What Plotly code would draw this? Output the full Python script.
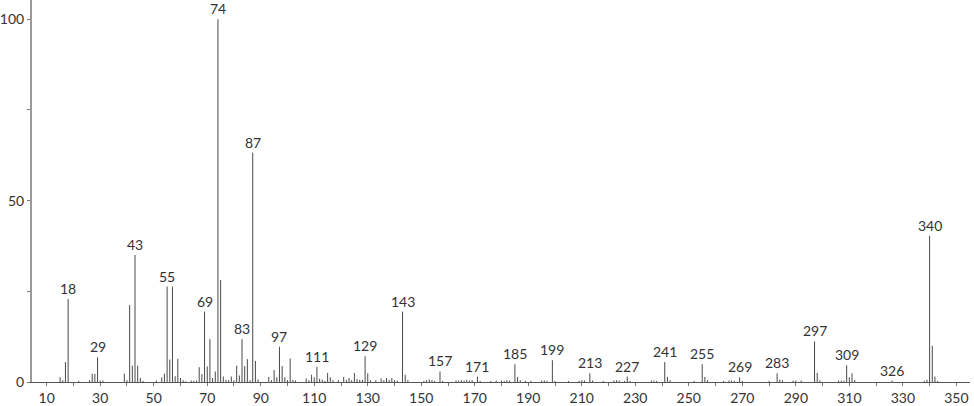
import plotly.graph_objects as go

# m/z values and relative intensities
mz = [15, 16, 17, 18, 22, 26, 27, 28, 29, 30, 31, 39, 40, 41, 42, 43, 44, 45, 46,
      51, 53, 54, 55, 56, 57, 58, 59, 60, 61, 62, 64, 65, 66, 67, 68, 69, 70, 71, 72,
      73, 74, 75, 76, 77, 78, 79, 80, 81, 82, 83, 84, 85, 86, 87, 88, 89,
      93, 94, 95, 96, 97, 98, 99, 100, 101, 102, 103,
      107, 108, 109, 110, 111, 112, 113, 114, 115, 116, 117, 119, 121, 122, 123, 124,
      125, 126, 127, 128, 129, 130, 131, 133, 135, 136, 137, 138, 139, 140, 141,
      143, 144, 145, 151, 152, 153, 154, 155, 157, 158,
      163, 164, 165, 166, 167, 168, 169, 171, 172, 176, 178, 180, 181, 182, 183,
      185, 186, 187, 189, 191, 195, 196, 197, 199, 200,
      205, 209, 210, 211, 213, 214, 218, 222, 223, 224, 226, 227, 228,
      236, 237, 238, 241, 242, 243, 252, 255, 256, 257,
      263, 265, 266, 267, 269, 270, 280, 283, 284, 285, 289, 290, 292,
      297, 298, 299, 306, 307, 308, 309, 310, 311, 312, 326, 338, 339, 340, 341, 342, 343]
intensity = [1.3, 0.5, 5.5, 22.9, 0.3, 0.5, 2.3, 2.2, 6.8, 0.4, 0.4, 2.3, 0.5, 21.2, 4.5, 35.0, 4.5, 1.1, 0.3,
             0.4, 1.3, 2.3, 26.3, 6.2, 26.3, 1.6, 6.4, 1.1, 0.5, 0.2, 0.4, 0.4, 0.4, 4.1, 2.2, 19.4, 4.3, 11.8, 1.1,
             2.9, 100.0, 28.1, 1.5, 0.6, 0.5, 1.5, 0.5, 4.5, 1.8, 11.8, 4.4, 6.3, 0.5, 63.2, 5.8, 0.7,
             1.4, 0.5, 3.3, 1.3, 9.7, 4.4, 1.3, 0.5, 6.5, 0.6, 0.4,
             1.0, 0.5, 2.0, 1.3, 4.2, 0.9, 0.7, 0.3, 2.5, 1.3, 0.5, 0.5, 1.4, 0.6, 1.1, 0.5,
             2.5, 0.8, 0.6, 0.6, 7.1, 2.4, 0.5, 0.5, 1.0, 0.5, 1.1, 0.6, 1.1, 0.5, 0.4,
             19.4, 2.0, 0.5, 0.3, 0.5, 0.7, 0.5, 0.3, 2.9, 0.3,
             0.4, 0.4, 0.5, 0.4, 0.6, 0.4, 0.5, 1.5, 0.3, 0.3, 0.4, 0.4, 0.3, 0.5, 0.4,
             4.9, 1.4, 0.5, 0.3, 0.3, 0.4, 0.4, 0.3, 6.0, 0.3,
             0.3, 0.3, 0.5, 0.4, 2.4, 0.4, 0.3, 0.4, 0.5, 0.4, 0.3, 1.5, 0.3,
             0.4, 0.4, 0.3, 5.5, 1.4, 0.5, 0.3, 4.9, 1.4, 0.5,
             0.3, 0.4, 0.4, 0.3, 1.3, 0.3, 0.3, 2.4, 0.7, 0.5, 0.4, 0.4, 0.4,
             11.2, 2.5, 0.5, 0.4, 0.4, 0.4, 4.6, 1.3, 2.4, 0.6, 0.4, 0.3, 0.6, 40.3, 10.0, 1.5, 0.3]

labelled_peaks = [18, 29, 43, 55, 69, 74, 83, 87, 97, 111, 129, 143, 157, 171, 185,
                  199, 213, 227, 241, 255, 269, 283, 297, 309, 326, 340]

x_tick_values = list(range(10, 351, 10))
x_tick_text = [str(v) if (v - 10) % 20 == 0 else "" for v in x_tick_values]
y_tick_values = [0, 25, 50, 75, 100]
y_tick_text = ["0", "", "50", "", "100"]

# build stick lines
xs, ys = [], []
for m, v in zip(mz, intensity):
    xs += [m, m, None]
    ys += [0, v, None]

fig = go.Figure()
fig.add_trace(go.Scatter(x=xs, y=ys, mode="lines",
                         line=dict(color="#4a4a4a", width=1),
                         hoverinfo="skip", showlegend=False))

lookup = dict(zip(mz, intensity))
for p in labelled_peaks:
    fig.add_annotation(x=p, y=lookup[p], text=str(p), showarrow=False,
                       xanchor="center", yanchor="bottom", yshift=0,
                       font=dict(family="Lato", size=14, color="#333333"))

fig.update_layout(
    width=974, height=406,
    margin=dict(l=29, r=4, t=0, b=21),
    plot_bgcolor="white", paper_bgcolor="white",
    font=dict(family="Lato", size=14, color="#333333"),
    xaxis=dict(range=[4.5, 355.1], showgrid=False, zeroline=False,
               showline=True, linecolor="#555555", linewidth=1,
               tickmode="array", tickvals=x_tick_values, ticktext=x_tick_text,
               ticks="outside", ticklen=3, tickcolor="#777777", tickwidth=1),
    yaxis=dict(range=[0, 105.3], showgrid=False, zeroline=False,
               showline=True, linecolor="#9a9a9a", linewidth=2,
               tickmode="array", tickvals=y_tick_values, ticktext=y_tick_text,
               ticks="outside", ticklen=3, tickcolor="#777777", tickwidth=1),
)

fig.write_html("out.html", config={"displayModeBar": False},
               post_script="document.body.style.margin='0px';document.body.style.overflow='hidden';")
